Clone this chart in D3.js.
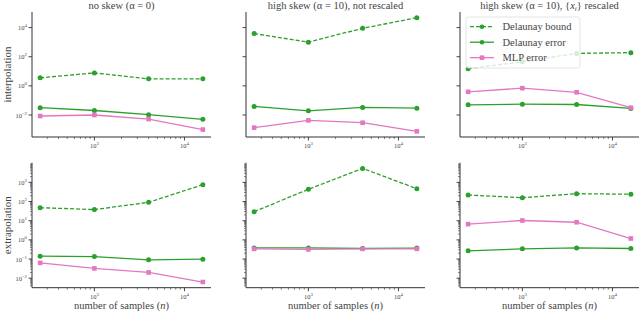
<!DOCTYPE html>
<html><head><meta charset="utf-8">
<script src="https://cdn.jsdelivr.net/npm/d3@7"></script>
<style>body{margin:0;background:#fff}svg{display:block}svg text{font-family:"Liberation Serif","DejaVu Serif","Times New Roman",serif}</style>
</head><body>
<script>
const samples = [250, 1000, 4000, 16000];
const rowNames = ["interpolation", "extrapolation"];
const colTitles = ["no skew (α = 0)", "high skew (α = 10), not rescaled", "high skew (α = 10), {x_i} rescaled"];
const seriesNames = ["Delaunay bound", "Delaunay error", "MLP error"];
// log10 values: [row][col][series]
const interpBound = [[0.55, 0.89, 0.48, 0.48], [3.59, 3.0, 3.95, 4.68], [1.18, 1.66, 2.23, 2.28]];
const interpDelErr = [[-1.50, -1.69, -1.98, -2.30], [-1.41, -1.71, -1.48, -1.53], [-1.30, -1.26, -1.28, -1.55]];
const interpMLP = [[-2.07, -2.0, -2.28, -3.0], [-2.87, -2.37, -2.53, -3.12], [-0.41, -0.16, -0.44, -1.50]];
const extrapBound = [[1.68, 1.58, 1.96, 2.88], [1.47, 2.64, 3.73, 2.67], [2.34, 2.20, 2.41, 2.38]];
const extrapDelErr = [[-0.85, -0.87, -1.04, -1.01], [-0.42, -0.42, -0.45, -0.43], [-0.57, -0.47, -0.42, -0.45]];
const extrapMLP = [[-1.20, -1.49, -1.70, -2.20], [-0.47, -0.50, -0.47, -0.47], [0.82, 1.01, 0.92, 0.07]];
const yTicksTop = [-2, 0, 2, 4];
const yTicksBottom = [-2, -1, 0, 1, 2, 3];
const xTicks = [3, 4];

const rows = [
  [interpBound, interpDelErr, interpMLP],
  [extrapBound, extrapDelErr, extrapMLP]
];
const green = "#2ca02c", pink = "#e377c2";
const styles = [
  {color: green, dash: "4,2", marker: "circle"},
  {color: green, dash: null, marker: "circle"},
  {color: pink, dash: null, marker: "square"}
];

const W = 640, H = 315;
const svg = d3.select("body").append("svg").attr("width", W).attr("height", H);
const txt = "#444", ax = "#333";

const panelLeft = [32, 246, 460], panelW = 179;
const rowTop = [12, 162.7], panelH = 125;

function padDomain(lo, hi) { const s = hi - lo; return [lo - 0.05 * s, hi + 0.05 * s]; }
const lx = samples.map(Math.log10);
const xDom = padDomain(d3.min(lx), d3.max(lx));

function supLabel(sel, exp) {
  sel.text("10");
  sel.append("tspan").attr("dy", -3).attr("font-size", 4.8).text(exp < 0 ? "−" + (-exp) : exp);
}

rows.forEach((rowData, r) => {
  const all = rowData.flat(2);
  const yDom = padDomain(d3.min(all), d3.max(all));
  const y = d3.scaleLog().domain([10 ** yDom[0], 10 ** yDom[1]]).range([rowTop[r] + panelH, rowTop[r]]);
  const yTicks = r === 0 ? yTicksTop : yTicksBottom;
  for (let c = 0; c < 3; c++) {
    const x = d3.scaleLog().domain([10 ** xDom[0], 10 ** xDom[1]]).range([panelLeft[c], panelLeft[c] + panelW]);
    const g = svg.append("g");
    const xb = rowTop[r] + panelH;
    g.append("line").attr("x1", panelLeft[c]).attr("x2", panelLeft[c] + panelW).attr("y1", xb).attr("y2", xb).attr("stroke", ax).attr("stroke-width", 1);
    for (let e = 2; e <= 4; e++) for (let m = 1; m <= 9; m++) {
      const v = m * 10 ** e;
      if (v < 10 ** xDom[0] || v > 10 ** xDom[1]) continue;
      const major = m === 1;
      g.append("line").attr("x1", x(v)).attr("x2", x(v)).attr("y1", xb).attr("y2", xb + (major ? 3.5 : 2)).attr("stroke", ax).attr("stroke-width", major ? 0.9 : 0.6);
    }
    xTicks.forEach(e => {
      const t = g.append("text").attr("x", x(10 ** e)).attr("y", xb + 11).attr("text-anchor", "middle").attr("font-size", 6.5).attr("fill", txt);
      supLabel(t, e);
    });
    const xl = panelLeft[c];
    g.append("line").attr("x1", xl).attr("x2", xl).attr("y1", rowTop[r]).attr("y2", xb).attr("stroke", ax).attr("stroke-width", 1);
    yTicks.forEach(e => {
      g.append("line").attr("x1", xl - 3.5).attr("x2", xl).attr("y1", y(10 ** e)).attr("y2", y(10 ** e)).attr("stroke", ax).attr("stroke-width", 0.9);
    });
    if (r === 1) {
      for (let e = -3; e <= 4; e++) for (let m = 2; m <= 9; m++) {
        const v = m * 10 ** e;
        if (v < 10 ** yDom[0] || v > 10 ** yDom[1]) continue;
        g.append("line").attr("x1", xl - 2).attr("x2", xl).attr("y1", y(v)).attr("y2", y(v)).attr("stroke", ax).attr("stroke-width", 0.6);
      }
    }
    if (c === 0) {
      yTicks.forEach(e => {
        const t = g.append("text").attr("x", xl - 5).attr("y", y(10 ** e) + 2.5).attr("text-anchor", "end").attr("font-size", 6.5).attr("fill", txt);
        supLabel(t, e);
      });
    }
    rowData.forEach((ser, s) => {
      const vals = ser[c].map(v => 10 ** v);
      const st = styles[s];
      const line = d3.line().x((d, i) => x(samples[i])).y(d => y(d));
      g.append("path").attr("d", line(vals)).attr("fill", "none").attr("stroke", st.color).attr("stroke-width", 1.3).attr("stroke-dasharray", st.dash);
      vals.forEach((v, i) => {
        if (st.marker === "circle") g.append("circle").attr("cx", x(samples[i])).attr("cy", y(v)).attr("r", 2.5).attr("fill", st.color);
        else g.append("rect").attr("x", x(samples[i]) - 2.3).attr("y", y(v) - 2.3).attr("width", 4.6).attr("height", 4.6).attr("fill", st.color);
      });
    });
    if (r === 0) {
      const t = svg.append("text").attr("x", panelLeft[c] + panelW / 2).attr("y", 9).attr("text-anchor", "middle").attr("font-size", 10.5).attr("fill", txt);
      const title = colTitles[c];
      if (title.includes("{x_i}")) {
        const parts = title.split("{x_i}");
        t.append("tspan").text(parts[0] + "{");
        t.append("tspan").attr("font-style", "italic").text("x");
        t.append("tspan").attr("font-style", "italic").attr("font-size", 7).attr("dy", 2).text("i");
        t.append("tspan").attr("dy", -2).text("}" + parts[1]);
      } else {
        t.text(title);
      }
    } else {
      const t = svg.append("text").attr("x", panelLeft[c] + panelW / 2).attr("y", 309).attr("text-anchor", "middle").attr("font-size", 10.5).attr("fill", txt);
      t.append("tspan").text("number of samples (");
      t.append("tspan").attr("font-style", "italic").text("n");
      t.append("tspan").text(")");
    }
  }
  svg.append("text").attr("transform", `translate(11,${rowTop[r] + panelH / 2}) rotate(-90)`).attr("text-anchor", "middle").attr("font-size", 11).attr("fill", txt).text(rowNames[r]);
});

const lg = svg.append("g").attr("transform", "translate(466,17)");
lg.append("rect").attr("width", 114).attr("height", 51).attr("rx", 2.5).attr("fill", "#fff").attr("fill-opacity", 0.8).attr("stroke", "#ddd").attr("stroke-width", 0.8);
seriesNames.forEach((n, i) => {
  const yy = 9.7 + i * 15.5;
  const st = styles[i];
  lg.append("line").attr("x1", 4).attr("x2", 28).attr("y1", yy).attr("y2", yy).attr("stroke", st.color).attr("stroke-width", 1.3).attr("stroke-dasharray", st.dash);
  if (st.marker === "circle") lg.append("circle").attr("cx", 16).attr("cy", yy).attr("r", 2.3).attr("fill", st.color);
  else lg.append("rect").attr("x", 13.7).attr("y", yy - 2.3).attr("width", 4.6).attr("height", 4.6).attr("fill", st.color);
  lg.append("text").attr("x", 36.5).attr("y", yy + 3.5).attr("font-size", 10.5).attr("fill", txt).text(n);
});
</script>
</body></html>
